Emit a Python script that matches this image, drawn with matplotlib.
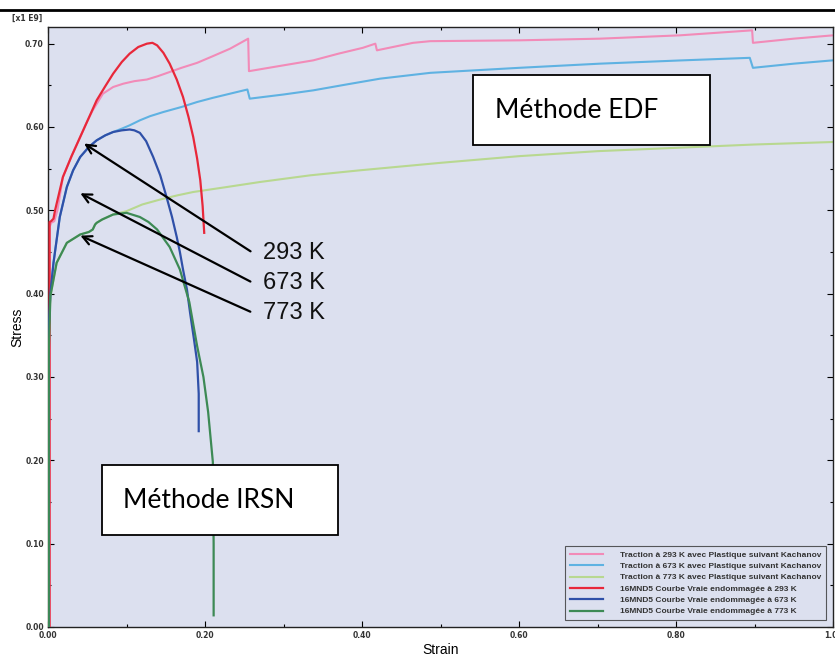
import matplotlib
matplotlib.use("Agg")
import matplotlib.pyplot as plt
from matplotlib.ticker import MultipleLocator, FormatStrFormatter
from matplotlib.patches import Rectangle
from matplotlib.lines import Line2D

# ---------------- data ----------------
# EDF curves (Traction ... Kachanov)
edf293_x = [0.0, 0.002, 0.002, 0.004, 0.008, 0.012, 0.019, 0.03, 0.041, 0.05, 0.057, 0.07, 0.083,
            0.096, 0.11, 0.126, 0.14, 0.155, 0.17, 0.19, 0.21, 0.232, 0.255, 0.256, 0.3, 0.338,
            0.37, 0.401, 0.417, 0.419, 0.465, 0.487, 0.6, 0.703, 0.805, 0.897, 0.898, 0.95, 1.0]
edf293_y = [0.0, 0.0, 0.48, 0.485, 0.487, 0.5, 0.54, 0.565, 0.588, 0.607, 0.62, 0.64, 0.648,
            0.652, 0.655, 0.657, 0.661, 0.666, 0.671, 0.677, 0.685, 0.694, 0.706, 0.667, 0.674, 0.68,
            0.688, 0.695, 0.70, 0.692, 0.701, 0.703, 0.704, 0.706, 0.71, 0.716, 0.701, 0.706, 0.71]

edf673_x = [0.0, 0.001, 0.001, 0.003, 0.007, 0.015, 0.024, 0.032, 0.041, 0.052, 0.062, 0.073,
            0.083, 0.094, 0.104, 0.117, 0.13, 0.147, 0.17, 0.19, 0.21, 0.232, 0.254, 0.257, 0.3,
            0.338, 0.38, 0.423, 0.487, 0.6, 0.703, 0.809, 0.894, 0.898, 0.95, 1.0]
edf673_y = [0.0, 0.0, 0.36, 0.40, 0.437, 0.492, 0.528, 0.548, 0.564, 0.576, 0.584, 0.59,
            0.594, 0.598, 0.602, 0.608, 0.613, 0.618, 0.624, 0.63, 0.635, 0.64, 0.645, 0.634, 0.639,
            0.644, 0.651, 0.658, 0.665, 0.671, 0.676, 0.68, 0.683, 0.671, 0.676, 0.68]

edf773_x = [0.0, 0.001, 0.001, 0.003, 0.011, 0.024, 0.041, 0.052, 0.057, 0.06, 0.062, 0.069,
            0.083, 0.1, 0.12, 0.143, 0.165, 0.185, 0.228, 0.27, 0.334, 0.397, 0.5, 0.6, 0.7,
            0.8, 0.9, 1.0]
edf773_y = [0.0, 0.0, 0.33, 0.397, 0.437, 0.461, 0.471, 0.474, 0.477, 0.483, 0.485, 0.489,
            0.495, 0.499, 0.507, 0.513, 0.518, 0.522, 0.528, 0.534, 0.542, 0.548, 0.557, 0.565, 0.571,
            0.575, 0.579, 0.582]

# IRSN curves (16MND5 Courbe Vraie endommagée)
irsn293_x = [0.0, 0.002, 0.002, 0.004, 0.007, 0.009, 0.019, 0.03, 0.041, 0.052, 0.062, 0.073,
             0.083, 0.094, 0.104, 0.115, 0.126, 0.133, 0.139, 0.147, 0.155, 0.164, 0.172, 0.179,
             0.185, 0.19, 0.194, 0.197, 0.199]
irsn293_y = [0.0, 0.0, 0.486, 0.487, 0.49, 0.50, 0.54, 0.565, 0.588, 0.611, 0.632, 0.649,
             0.664, 0.678, 0.688, 0.696, 0.700, 0.701, 0.698, 0.689, 0.676, 0.657, 0.636, 0.612,
             0.588, 0.562, 0.536, 0.505, 0.473]

irsn673_x = [0.001, 0.001, 0.003, 0.007, 0.015, 0.024, 0.032, 0.041, 0.052, 0.062, 0.073, 0.083,
             0.094, 0.104, 0.11, 0.117, 0.125, 0.134, 0.143, 0.151, 0.158, 0.164, 0.168, 0.172,
             0.177, 0.181, 0.186, 0.19, 0.192, 0.192]
irsn673_y = [0.0, 0.36, 0.40, 0.437, 0.492, 0.528, 0.548, 0.564, 0.576, 0.584, 0.59, 0.594,
             0.596, 0.597, 0.596, 0.593, 0.583, 0.564, 0.542, 0.516, 0.492, 0.468, 0.45, 0.429,
             0.405, 0.377, 0.345, 0.318, 0.28, 0.235]

irsn773_x = [0.001, 0.001, 0.003, 0.011, 0.024, 0.041, 0.052, 0.057, 0.06, 0.062, 0.069, 0.083,
             0.1, 0.117, 0.128, 0.139, 0.155, 0.168, 0.18, 0.19, 0.198, 0.204, 0.21, 0.211, 0.211]
irsn773_y = [0.0, 0.33, 0.397, 0.437, 0.461, 0.471, 0.474, 0.477, 0.483, 0.485, 0.489, 0.495,
             0.497, 0.492, 0.486, 0.477, 0.456, 0.429, 0.39, 0.337, 0.3, 0.258, 0.198, 0.1, 0.014]

labels = [
    "Traction à 293 K avec Plastique suivant Kachanov",
    "Traction à 673 K avec Plastique suivant Kachanov",
    "Traction à 773 K avec Plastique suivant Kachanov",
    "16MND5 Courbe Vraie endommagée à 293 K",
    "16MND5 Courbe Vraie endommagée à 673 K",
    "16MND5 Courbe Vraie endommagée à 773 K",
]
colors = ["#f28bb8", "#5fb2e2", "#b8d890", "#e8283a", "#2f50a8", "#3d8a55"]

arrow_labels = ["293 K", "673 K", "773 K"]
arrow_tips = [(0.043, 0.582), (0.038, 0.522), (0.038, 0.471)]
arrow_tails = [(0.261, 0.449), (0.261, 0.413), (0.261, 0.377)]

# ---------------- figure ----------------
fig = plt.figure(figsize=(8.35, 6.55), dpi=100)
ax = fig.add_axes([48 / 835, 28 / 655, 785 / 835, 600 / 655])
ax.set_facecolor("#dce0ef")

series = [(edf293_x, edf293_y), (edf673_x, edf673_y), (edf773_x, edf773_y),
          (irsn293_x, irsn293_y), (irsn673_x, irsn673_y), (irsn773_x, irsn773_y)]
for i, ((xs, ys), lab, col) in enumerate(zip(series, labels, colors)):
    ax.plot(xs, ys, color=col, lw=1.6 if i >= 3 else 1.5, label=lab, zorder=3 if i >= 3 else 2)

ax.set_xlim(0, 1.0)
ax.set_ylim(0, 0.72)
ax.xaxis.set_major_locator(MultipleLocator(0.2))
ax.xaxis.set_minor_locator(MultipleLocator(0.1))
ax.yaxis.set_major_locator(MultipleLocator(0.1))
ax.yaxis.set_minor_locator(MultipleLocator(0.05))
ax.xaxis.set_major_formatter(FormatStrFormatter("%.2f"))
ax.yaxis.set_major_formatter(FormatStrFormatter("%.2f"))
ax.tick_params(which="both", direction="in", top=True, right=True, labelsize=5.5,
               labelcolor="#333333", width=0.8)
ax.tick_params(which="major", length=4, pad=3)
ax.tick_params(which="minor", length=2.5)
for lab in ax.get_xticklabels() + ax.get_yticklabels():
    lab.set_fontweight("bold")
for sp in ax.spines.values():
    sp.set_color("#222222")
    sp.set_linewidth(1.0)

ax.set_xlabel("Strain", fontsize=10, family="Liberation Sans")
ax.set_ylabel("Stress", fontsize=10, family="Liberation Sans")
ax.xaxis.set_label_coords(0.5, -0.026)
ax.yaxis.set_label_coords(-0.03, 0.5)

fig.text(12 / 835, 1 - 18 / 655, "[x1 E9]", fontsize=5.5, fontweight="bold",
         va="center", ha="left", color="#333333")
fig.add_artist(Line2D([0, 1], [1 - 10 / 655, 1 - 10 / 655], color="black", lw=2,
                      transform=fig.transFigure))

# legend
leg = ax.legend(loc="lower right", bbox_to_anchor=(0.997, 0.004),
                prop={"family": "Liberation Sans", "size": 6, "weight": "bold"},
                frameon=True, fancybox=False, handlelength=4.0, handletextpad=2.0,
                labelspacing=0.42, borderpad=0.6)
leg.get_frame().set_edgecolor("#333333")
leg.get_frame().set_linewidth(0.8)
leg.get_frame().set_facecolor("#dce0ef")
for t in leg.get_texts():
    t.set_color("#333333")

# arrows and temperature labels
for lab, tip, tail in zip(arrow_labels, arrow_tips, arrow_tails):
    ax.annotate("", xy=tip, xytext=tail,
                arrowprops=dict(arrowstyle="->", lw=1.6, color="black", mutation_scale=16),
                zorder=5)
    ax.text(tail[0] + 0.013, tail[1], lab, fontsize=17, family="Liberation Sans",
            ha="left", va="center", color="#111111", zorder=5)

# method boxes
ax.add_patch(Rectangle(((473 - 48) / 785, (627 - 145) / 600), 237 / 785, 70 / 600,
                       transform=ax.transAxes, facecolor="white", edgecolor="black",
                       lw=1.3, zorder=6))
ax.text((495 - 48) / 785, (627 - 110) / 600, "Méthode EDF", transform=ax.transAxes,
        fontsize=19, family="Lato", ha="left", va="center", zorder=7)
ax.add_patch(Rectangle(((102 - 48) / 785, (627 - 535) / 600), 236 / 785, 70 / 600,
                       transform=ax.transAxes, facecolor="white", edgecolor="black",
                       lw=1.3, zorder=6))
ax.text((123 - 48) / 785, (627 - 500) / 600, "Méthode IRSN", transform=ax.transAxes,
        fontsize=19, family="Lato", ha="left", va="center", zorder=7)

fig.savefig("out.png", dpi=100)
